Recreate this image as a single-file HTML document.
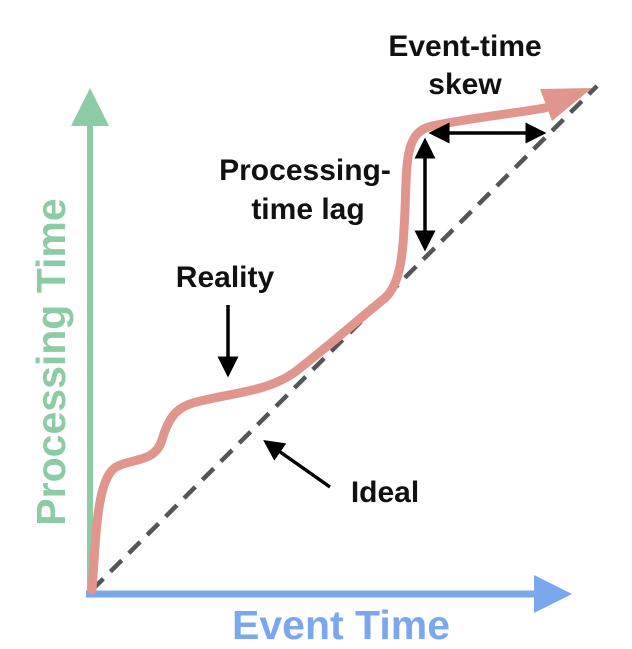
<!DOCTYPE html>
<html><head><style>
html,body{margin:0;padding:0;background:#fff;}
svg{display:block;font-family:"Liberation Sans",sans-serif;font-weight:bold;}
</style></head><body>
<svg width="632" height="649" viewBox="0 0 632 649">
<defs>
<marker id="ah" markerWidth="6" markerHeight="6" refX="5" refY="3" orient="auto-start-reverse" markerUnits="strokeWidth"><path d="M0,0 L6,3 L0,6 z" fill="#000"/></marker>
</defs>
<!-- axes -->
<line x1="90" y1="596" x2="90" y2="120" stroke="#8dcaa6" stroke-width="6"/>
<polygon points="90,88 71,126 109,126" fill="#8dcaa6"/>
<line x1="86" y1="594" x2="540" y2="594" stroke="#7ba7ee" stroke-width="7"/>
<polygon points="572,594 534,575 534,613" fill="#7ba7ee"/>
<!-- ideal -->
<line x1="92" y1="590" x2="597" y2="86" stroke="#555" stroke-width="4.5" stroke-dasharray="16,10"/>
<!-- reality -->
<path d="M92,590 C96,540 96,475 118,466 C135,458 155,462 162,440 C170,412 180,405 205,400 C240,392 270,390 295,372 C330,345 360,318 385,298 C402,282 403,250 405,210 C407,160 405,132 432,126 C470,118 510,114 545,108" fill="none" stroke="#e0968d" stroke-width="9" stroke-linecap="round"/>
<polygon points="592,88 540,89 552,121" fill="#e0968d"/>
<!-- arrows -->
<line x1="432" y1="133" x2="543" y2="133" stroke="#000" stroke-width="3.5" marker-start="url(#ah)" marker-end="url(#ah)"/>
<line x1="425" y1="141" x2="425" y2="248" stroke="#000" stroke-width="3.5" marker-start="url(#ah)" marker-end="url(#ah)"/>
<line x1="228" y1="305" x2="228" y2="374" stroke="#000" stroke-width="3.5" marker-end="url(#ah)"/>
<line x1="330" y1="487" x2="266" y2="442" stroke="#000" stroke-width="3.5" marker-end="url(#ah)"/>
<!-- labels -->
<g font-size="30" fill="#111" text-anchor="middle">
<text x="465" y="56">Event-time</text>
<text x="465" y="94">skew</text>
<text x="305" y="180">Processing-</text>
<text x="308" y="219">time lag</text>
<text x="225" y="287">Reality</text>
<text x="385" y="502">Ideal</text>
</g>
<text x="341" y="639" font-size="41" fill="#7ba7ee" text-anchor="middle">Event Time</text>
<text transform="translate(65,362) rotate(-90)" font-size="41" fill="#8dcaa6" text-anchor="middle">Processing Time</text>
</svg>
</body></html>
